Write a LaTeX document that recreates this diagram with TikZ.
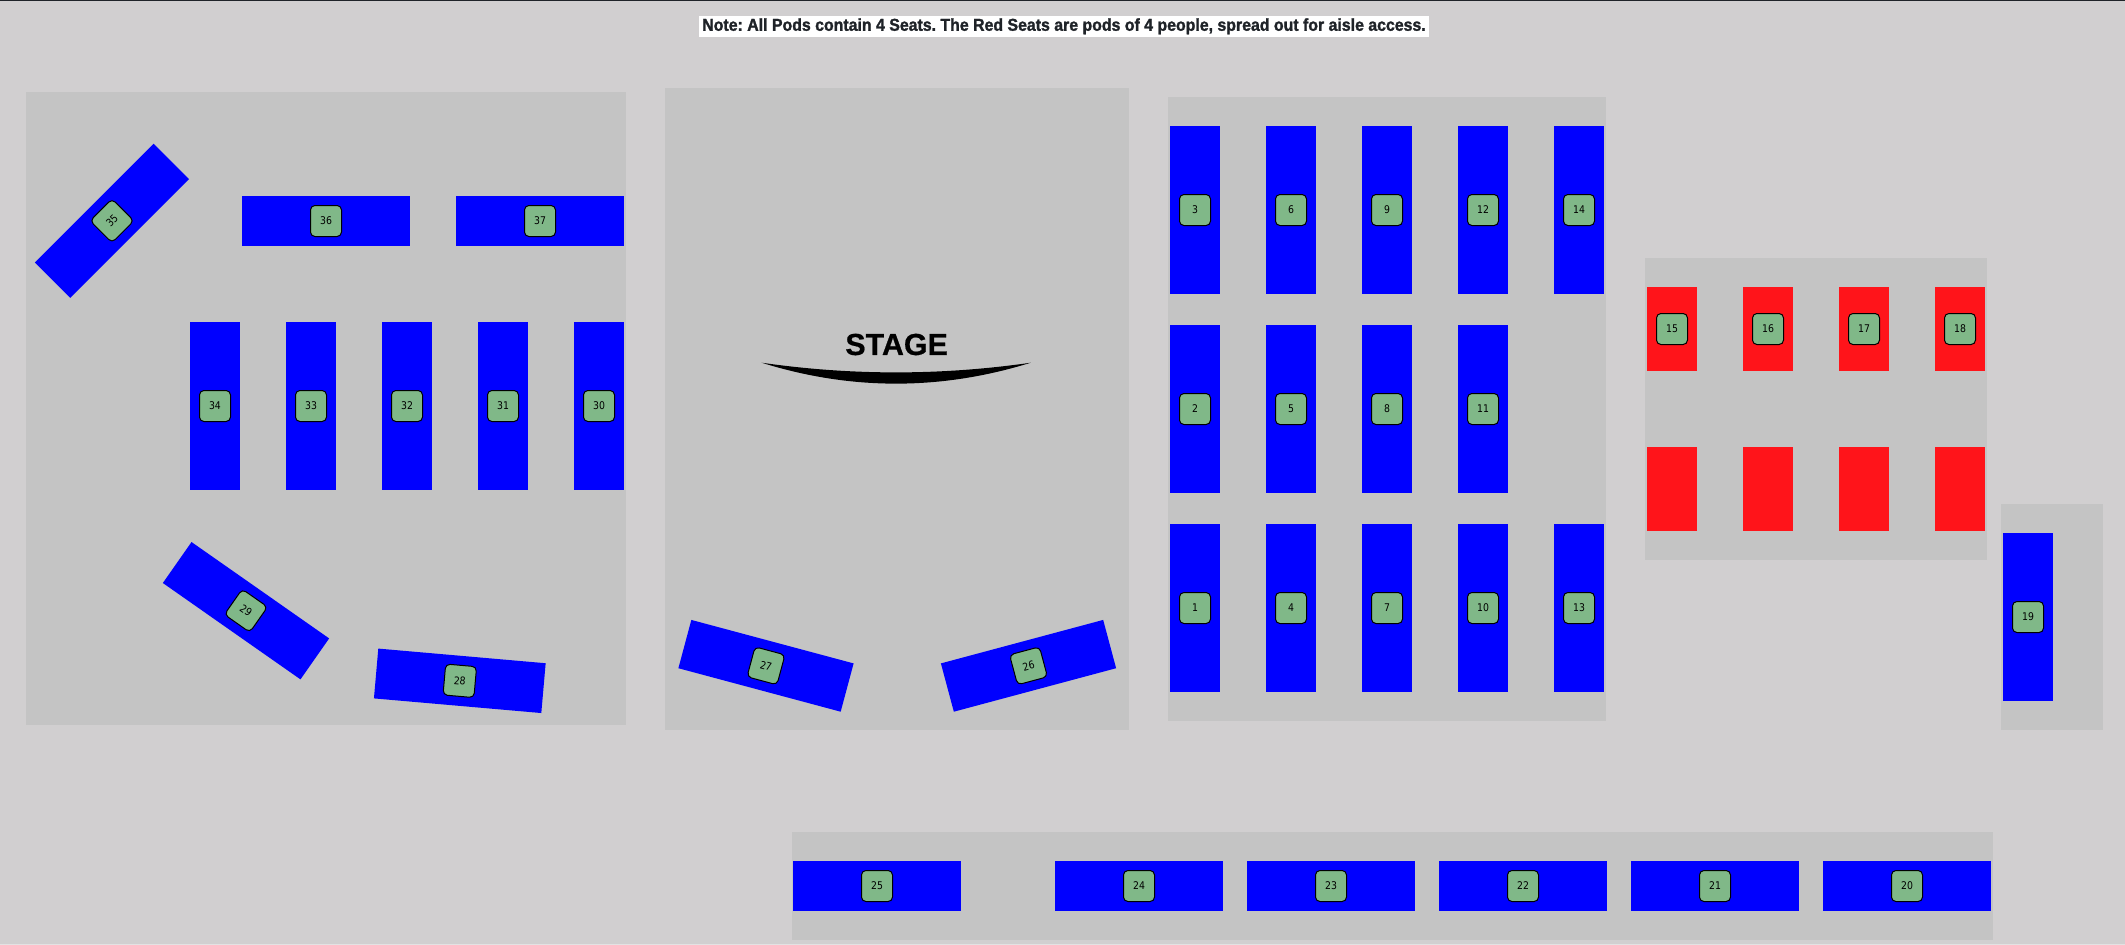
\documentclass[tikz,border=0pt]{standalone}
\usepackage{fontspec}
\setmainfont{Liberation Sans}
\newfontfamily\seatfont[FakeStretch=0.88]{DejaVu Sans}
\newfontfamily\notefont[FakeStretch=0.923,FakeBold=1.5]{Liberation Sans Bold}
\newfontfamily\stagefont[FakeBold=0.6]{Liberation Sans Bold}
\definecolor{floorgrey}{HTML}{D1CFD0}
\definecolor{panelgrey}{HTML}{C4C4C4}
\definecolor{podblue}{HTML}{0000FF}
\definecolor{podred}{HTML}{FF141A}
\definecolor{badgegreen}{HTML}{80B888}
\definecolor{noteink}{HTML}{1F2328}
\tikzset{
        pod/.style = {fill = podblue, inner sep = 0pt, outer sep = 0pt},
        podwide/.style = {pod, minimum width = 84pt, minimum height = 25pt},
        podtall/.style = {pod, minimum width = 25pt, minimum height = 84pt},
        podred/.style = {pod, fill = podred, minimum width = 25pt, minimum height = 42pt},
        badge/.style = {draw = black, line width = 0.5pt, fill = badgegreen, rounded corners = 2.2pt,
                inner sep = 0pt, minimum size = 15.5pt, font = \seatfont\fontsize{5.3}{6}\selectfont}
}

\begin{document}
\begin{tikzpicture}[x = 0.5pt, y = -0.5pt]
        \useasboundingbox (0,0) rectangle (2125,944.4);
        \fill[floorgrey] (0,0) rectangle (2125,945);
        \fill[noteink] (0,0) rectangle (2125,1);
        \fill[floorgrey!60!white] (0,943.6) rectangle (2125,945);

        \fill[panelgrey] (26,92) rectangle (626,725);
        \fill[panelgrey] (665,88) rectangle (1129,730);
        \fill[panelgrey] (1168,97) rectangle (1606,721);
        \fill[panelgrey] (1645,258) rectangle (1987,560);
        \fill[panelgrey] (2001,504) rectangle (2103,730);
        \fill[panelgrey] (792,832) rectangle (1993,940);

        \node[fill = white, inner sep = 0pt, minimum width = 365pt, minimum height = 10.5pt,
                text = noteink, font = \notefont\fontsize{8.6}{9}\selectfont\frenchspacing] (note) at (1064,26.3)
                {Note: All Pods contain 4 Seats. The Red Seats are pods of 4 people, spread out for aisle access.};
        \node[inner sep = 0pt, font = \stagefont\fontsize{15.2}{16}\selectfont] (stage) at (896.6,344.5) {STAGE};
        \fill[black] (761.7,362.7) .. controls (851,375.6) and (941,375.6) .. (1030.7,362.7)
                .. controls (941,390.6) and (851,390.6) .. (761.7,362.7) -- cycle;

        \node[podtall] (pod3) at (1195,210) {};
        \node[podtall] (pod6) at (1291,210) {};
        \node[podtall] (pod9) at (1387,210) {};
        \node[podtall] (pod12) at (1483,210) {};
        \node[podtall] (pod14) at (1579,210) {};
        \node[podtall] (pod2) at (1195,409) {};
        \node[podtall] (pod5) at (1291,409) {};
        \node[podtall] (pod8) at (1387,409) {};
        \node[podtall] (pod11) at (1483,409) {};
        \node[podtall] (pod1) at (1195,608) {};
        \node[podtall] (pod4) at (1291,608) {};
        \node[podtall] (pod7) at (1387,608) {};
        \node[podtall] (pod10) at (1483,608) {};
        \node[podtall] (pod13) at (1579,608) {};
        \node[podtall] (pod19) at (2028,617) {};

        \node[podred] (pod15) at (1672,329) {};
        \node[podred] (pod16) at (1768,329) {};
        \node[podred] (pod17) at (1864,329) {};
        \node[podred] (pod18) at (1960,329) {};
        \node[podred] (podA) at (1672,489) {};
        \node[podred] (podB) at (1768,489) {};
        \node[podred] (podC) at (1864,489) {};
        \node[podred] (podD) at (1960,489) {};

        \node[podwide] (pod25) at (877,886) {};
        \node[podwide] (pod24) at (1139,886) {};
        \node[podwide] (pod23) at (1331,886) {};
        \node[podwide] (pod22) at (1523,886) {};
        \node[podwide] (pod21) at (1715,886) {};
        \node[podwide] (pod20) at (1907,886) {};

        \node[podtall] (pod34) at (215,406) {};
        \node[podtall] (pod33) at (311,406) {};
        \node[podtall] (pod32) at (407,406) {};
        \node[podtall] (pod31) at (503,406) {};
        \node[podtall] (pod30) at (599,406) {};
        \node[podwide] (pod36) at (326,221) {};
        \node[podwide] (pod37) at (540,221) {};
        \node[podwide, rotate = 45] (pod35) at (112,220.8) {};
        \node[podwide, rotate = -35] (pod29) at (246,610.7) {};
        \node[podwide, rotate = -5] (pod28) at (459.8,680.8) {};
        \node[podwide, rotate = -15] (pod27) at (766,665.8) {};
        \node[podwide, rotate = 15] (pod26) at (1028.5,665.8) {};

        \node[badge] (seat3) at (pod3) {3};
        \node[badge] (seat6) at (pod6) {6};
        \node[badge] (seat9) at (pod9) {9};
        \node[badge] (seat12) at (pod12) {12};
        \node[badge] (seat14) at (pod14) {14};
        \node[badge] (seat2) at (pod2) {2};
        \node[badge] (seat5) at (pod5) {5};
        \node[badge] (seat8) at (pod8) {8};
        \node[badge] (seat11) at (pod11) {11};
        \node[badge] (seat1) at (pod1) {1};
        \node[badge] (seat4) at (pod4) {4};
        \node[badge] (seat7) at (pod7) {7};
        \node[badge] (seat10) at (pod10) {10};
        \node[badge] (seat13) at (pod13) {13};
        \node[badge] (seat19) at (pod19) {19};
        \node[badge] (seat15) at (pod15) {15};
        \node[badge] (seat16) at (pod16) {16};
        \node[badge] (seat17) at (pod17) {17};
        \node[badge] (seat18) at (pod18) {18};
        \node[badge] (seat25) at (pod25) {25};
        \node[badge] (seat24) at (pod24) {24};
        \node[badge] (seat23) at (pod23) {23};
        \node[badge] (seat22) at (pod22) {22};
        \node[badge] (seat21) at (pod21) {21};
        \node[badge] (seat20) at (pod20) {20};
        \node[badge] (seat34) at (pod34) {34};
        \node[badge] (seat33) at (pod33) {33};
        \node[badge] (seat32) at (pod32) {32};
        \node[badge] (seat31) at (pod31) {31};
        \node[badge] (seat30) at (pod30) {30};
        \node[badge] (seat36) at (pod36) {36};
        \node[badge] (seat37) at (pod37) {37};
        \node[badge, rotate = 45] (seat35) at (pod35) {35};
        \node[badge, rotate = -35] (seat29) at (pod29) {29};
        \node[badge, rotate = -5] (seat28) at (pod28) {28};
        \node[badge, rotate = -15] (seat27) at (pod27) {27};
        \node[badge, rotate = 15] (seat26) at (pod26) {26};
    \end{tikzpicture}
\end{document}
